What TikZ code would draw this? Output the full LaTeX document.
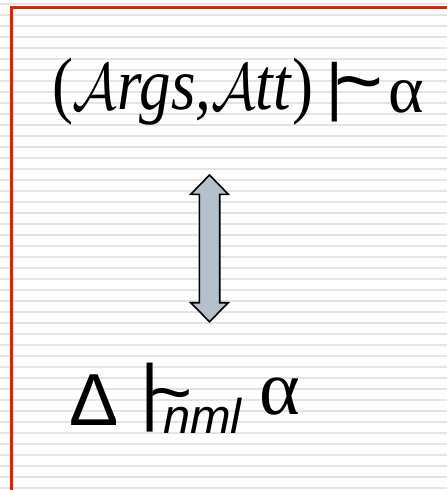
\RequirePackage{fix-cm}
\documentclass[tikz,border=0pt]{standalone}
\usepackage{fontspec}
\usepackage{graphicx}
\newfontfamily\sansf{Liberation Sans}
\newfontfamily\seriff{Liberation Serif}
\definecolor{borderred}{RGB}{212,38,10}
\definecolor{arrowfill}{RGB}{180,192,204}
\definecolor{stripe}{RGB}{228,228,228}
\tikzset{
  glyph/.style={inner sep=0pt, outer sep=0pt},
  blockarrow/.style={draw=black, line width=1.6bp, fill=arrowfill, line join=miter}
}
\begin{document}
\begin{tikzpicture}[x=1bp,y=-1bp]
\useasboundingbox (0,0) rectangle (447,490);
\fill[white] (0,0) rectangle (447,490);
\foreach \k in {0,...,44} \fill[stripe] (0,{2.8+11*\k}) rectangle (447,{5.4+11*\k});
\draw[borderred, line width=3bp] (11.2,490) -- (11.2,7.4) -- (447,7.4);
% top line
\node[glyph, anchor=base west] (lhs) at (52,110) {\resizebox{261bp}{!}{\scalebox{0.85}[1]{\seriff\fontsize{68}{75}\selectfont (\fontsize{60}{70}\selectfont$\mathcal{A}$\fontsize{68}{75}\selectfont\itshape rgs,\fontsize{60}{70}\selectfont$\mathcal{A}$\fontsize{68}{75}\selectfont\itshape tt\/\upshape)}}};
\node[glyph, anchor=center] (tbar) at (334.5,92) {\sansf\fontsize{64}{70}\selectfont |};
\node[glyph, anchor=north] (ttilde) at (359,77) {\sansf\fontsize{84}{90}\selectfont\symbol{"7E}};
\node[glyph, anchor=base] (talpha) at (406.5,113) {\seriff\fontsize{68}{75}\selectfont α};
% arrow
\coordinate (atop) at (209.5,175);
\coordinate (abot) at (209.5,321.7);
\draw[blockarrow] (atop) -- (228.3,194.3) -- (219.7,194.3) -- (219.7,302.7) -- (228.3,302.7)
  -- (abot) -- (190.7,302.7) -- (199.3,302.7) -- (199.3,194.3) -- (190.7,194.3) -- cycle;
% bottom line
\node[glyph, anchor=base] (delta) at (94.5,425) {\sansf\fontsize{74}{80}\selectfont Δ};
\node[glyph, anchor=center] (bbar) at (150,398) {\sansf\fontsize{74}{80}\selectfont |};
\node[glyph, anchor=north] (btilde) at (171.5,388) {\sansf\fontsize{74}{80}\selectfont\symbol{"7E}};
\node[glyph, anchor=base west] (nml) at (163,433) {\sansf\itshape\fontsize{49}{55}\selectfont nml};
\node[glyph, anchor=base] (balpha) at (280,414) {\seriff\fontsize{78}{85}\selectfont α};
\end{tikzpicture}
\end{document}
